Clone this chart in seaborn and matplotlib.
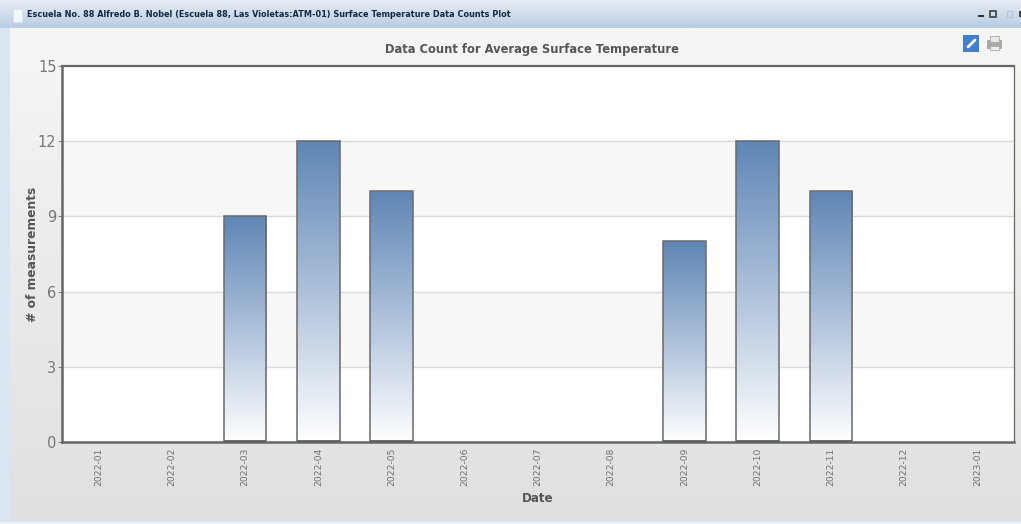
import numpy as np
import pandas as pd
import matplotlib
matplotlib.use("Agg")
import matplotlib.pyplot as plt
from matplotlib.colors import LinearSegmentedColormap
from matplotlib.patches import Rectangle, FancyBboxPatch
import seaborn as sns

months = ["2022-01","2022-02","2022-03","2022-04","2022-05","2022-06","2022-07",
          "2022-08","2022-09","2022-10","2022-11","2022-12","2023-01"]
counts = [0,0,9,12,10,0,0,0,8,12,10,0,0]
y_ticks = [0,3,6,9,12,15]
window_title = "Escuela No. 88 Alfredo B. Nobel (Escuela 88, Las Violetas:ATM-01) Surface Temperature Data Counts Plot"
chart_title = "Data Count for Average Surface Temperature"
x_label = "Date"
y_label = "# of measurements"

W, H = 1021, 524
sns.set_theme(style="white")
plt.rcParams['font.family'] = ['DejaVu Sans']
fig = plt.figure(figsize=(W/100, H/100), dpi=100, facecolor="white")

# window chrome, in pixel coordinates
bg = fig.add_axes([0, 0, 1, 1], zorder=0)
bg.set_xlim(0, W); bg.set_ylim(H, 0); bg.axis("off")
def vgrad(ax, x0, x1, y0, y1, c0, c1, z=1):
    cm = LinearSegmentedColormap.from_list("g", [c0, c1])
    ax.imshow(np.linspace(0, 1, 256)[:, None], cmap=cm, aspect="auto", vmin=0, vmax=1,
              extent=[x0, x1, y1, y0], zorder=z, interpolation="bilinear")
vgrad(bg, 0, W, 0, 28, "#e6edf6", "#b9cce2")
vgrad(bg, 0, 10, 28, 524, "#dbe6f2", "#dbe6f2")
vgrad(bg, 10, W, 28, 520, "#f6f6f5", "#e0e0e0")
vgrad(bg, 0, W, 520, 524, "#d5e2f0", "#f2f5f9")
bg.set_xlim(0, W); bg.set_ylim(H, 0)
bg.add_patch(Rectangle((13, 9), 9, 13, fc="#f2f7fc", ec="#d5e2f0", lw=0.5, zorder=3))
bg.text(27, 14.5, window_title, fontsize=5.85, fontweight="bold", color="#152a40", va="center", zorder=3)
bg.add_patch(Rectangle((978, 15), 6, 2, fc="#333333", lw=0, zorder=3))
bg.add_patch(Rectangle((990, 11), 6, 6, fc="none", ec="#333333", lw=1.1, zorder=3))
bg.add_patch(Rectangle((1007, 11), 5, 6, fc="none", ec="#b8c6d6", lw=1, zorder=3))
bg.add_patch(Rectangle((1019, 11), 2, 6, fc="#444444", lw=0, zorder=3))
# link and print icons
bg.add_patch(Rectangle((963, 35), 16, 17, fc="#3f7fcf", lw=0, zorder=3))
bg.plot([968, 975], [47, 40], color="white", lw=2, zorder=4, solid_capstyle="round")
bg.add_patch(FancyBboxPatch((988, 41), 13, 7, boxstyle="round,pad=0.5", fc="#a9a9a9", ec="#999999", lw=0.5, zorder=3))
bg.add_patch(Rectangle((990, 36), 9, 6, fc="#e8e8e8", ec="#aaaaaa", lw=0.6, zorder=4))
bg.add_patch(Rectangle((990, 46), 9, 4, fc="#f0f0f0", ec="#aaaaaa", lw=0.6, zorder=4))
bg.text(532, 49.5, chart_title, fontsize=8.3, fontweight="bold", color="#555555", ha="center", va="center", zorder=3)

# chart
L, R, T, B = 62, 1014, 66, 442
ax = fig.add_axes([L/W, 1-B/H, (R-L)/W, (B-T)/H], zorder=2)
df = pd.DataFrame({"month": months, "count": counts})
sns.barplot(data=df, x="month", y="count", ax=ax, width=0.58, color="#5f86b5",
            edgecolor="#6a6a6a", linewidth=1.1, saturation=1, zorder=3)
bars = list(ax.containers[0])
ax.set_ylim(0, 15)
ax.set_xlim(-0.5, len(months)-0.5)
ax.set_facecolor("white")
for lo, hi in zip(y_ticks[:-1], y_ticks[1:]):
    if lo in (3, 9):
        ax.axhspan(lo, hi, color="#f7f7f7", lw=0, zorder=0)
    if lo > 0:
        ax.axhline(lo, color="#dadada", lw=1, zorder=1)

# gradient fill clipped to each bar
grad = LinearSegmentedColormap.from_list("bar", ["#ffffff", "#adc1da", "#5f86b5"])
xl, yl = ax.get_xlim(), ax.get_ylim()
for bar in bars:
    h = bar.get_height()
    if h > 0:
        x0, w = bar.get_x(), bar.get_width()
        im = ax.imshow(np.linspace(1, 0, 256)[:, None], cmap=grad, aspect="auto", vmin=0, vmax=1,
                       extent=[x0, x0+w, 0, h], zorder=3.5)
        im.set_clip_path(bar)
        bar.set_facecolor("none")
        bar.set_zorder(4)
        ax.plot([x0, x0+w], [0.04, 0.04], color="#555555", lw=1.2, zorder=5, solid_capstyle="butt")
    else:
        bar.set_visible(False)
ax.set_xlim(xl); ax.set_ylim(yl)

for s in ax.spines.values():
    s.set_visible(True); s.set_color("#666666"); s.set_linewidth(0.9)
ax.spines["left"].set_linewidth(1.8)
ax.spines["bottom"].set_linewidth(1.8)
ax.spines["top"].set_linewidth(1.6)
ax.set_yticks(y_ticks)
ax.tick_params(axis="y", labelsize=10.5, labelcolor="#777777", length=3, color="#888888", width=0.8, pad=1, left=True)
ax.tick_params(axis="x", labelsize=6.6, labelcolor="#707070", rotation=90, length=0, pad=4)
ax.set_xlabel("")
ax.set_ylabel("")
bg.text(538, 499, x_label, fontsize=8.6, fontweight="bold", color="#555555", ha="center", va="center", zorder=3)
bg.text(32, 254, y_label, fontsize=8.8, fontweight="bold", color="#555555", ha="center", va="center", rotation=90, zorder=3)

fig.savefig("out.png", dpi=100, facecolor=fig.get_facecolor())
